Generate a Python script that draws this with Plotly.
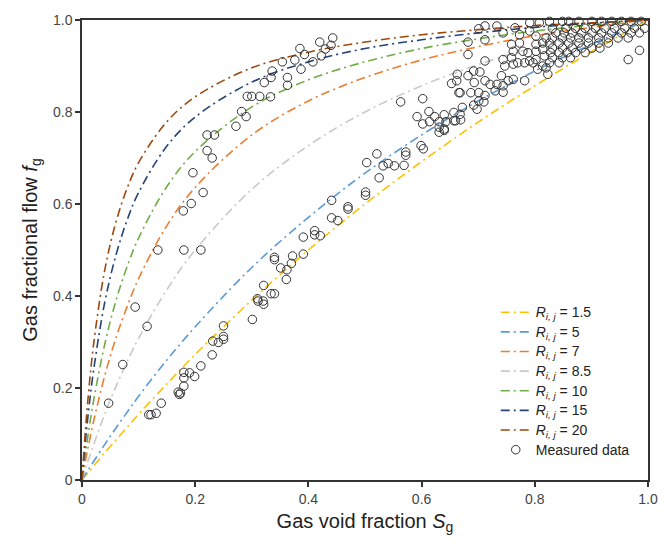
import plotly.graph_objects as go

# Model curves: gas void fraction S_g versus gas fractional flow f_g
S_grid = [0.0, 0.005, 0.01, 0.02, 0.04, 0.06, 0.08, 0.1, 0.15, 0.2, 0.3, 0.4,
          0.5, 0.6, 0.7, 0.8, 0.9, 1.0]

f_r1_5 = [0.0, 0.008, 0.015, 0.030, 0.059, 0.087, 0.115, 0.143, 0.209, 0.273,
          0.391, 0.500, 0.600, 0.692, 0.778, 0.857, 0.931, 1.0]
f_r5 = [0.0, 0.010, 0.020, 0.039, 0.077, 0.113, 0.148, 0.182, 0.261, 0.333,
        0.462, 0.571, 0.667, 0.750, 0.824, 0.889, 0.947, 1.0]
f_r7 = [0.0, 0.034, 0.066, 0.125, 0.226, 0.309, 0.378, 0.438, 0.553, 0.636,
        0.750, 0.824, 0.875, 0.913, 0.942, 0.966, 0.984, 1.0]
f_r8_5 = [0.0, 0.020, 0.039, 0.075, 0.143, 0.203, 0.258, 0.308, 0.414, 0.500,
          0.632, 0.727, 0.800, 0.857, 0.903, 0.941, 0.973, 1.0]
f_r10 = [0.0, 0.048, 0.092, 0.169, 0.294, 0.390, 0.465, 0.526, 0.638, 0.714,
         0.811, 0.870, 0.909, 0.938, 0.959, 0.976, 0.989, 1.0]
f_r15 = [0.0, 0.070, 0.132, 0.234, 0.385, 0.489, 0.566, 0.625, 0.726, 0.789,
         0.865, 0.909, 0.938, 0.957, 0.972, 0.984, 0.993, 1.0]
f_r20 = [0.0, 0.091, 0.168, 0.290, 0.455, 0.561, 0.635, 0.690, 0.779, 0.833,
         0.896, 0.930, 0.952, 0.968, 0.979, 0.988, 0.994, 1.0]

curve_labels = ["1.5", "5", "7", "8.5", "10", "15", "20"]
curve_values = [f_r1_5, f_r5, f_r7, f_r8_5, f_r10, f_r15, f_r20]
curve_colors = ["#FFC000", "#5B9BD5", "#ED7D31", "#C9C9C9", "#70AD47",
                "#264478", "#9E480E"]

# Measured data
meas_S = [
    0.047, 0.072, 0.094, 0.115, 0.118, 0.122, 0.131, 0.134, 0.140, 0.170,
    0.172, 0.174, 0.180, 0.180, 0.180, 0.190, 0.199, 0.180, 0.179, 0.193,
    0.196, 0.210, 0.214, 0.210, 0.230, 0.231, 0.241, 0.250, 0.250, 0.250,
    0.221, 0.230, 0.221, 0.234, 0.272, 0.282, 0.290, 0.292, 0.300, 0.314,
    0.322, 0.301, 0.310, 0.311, 0.320, 0.321, 0.321, 0.334, 0.340, 0.340,
    0.340, 0.351, 0.362, 0.361, 0.370, 0.372, 0.391, 0.391, 0.411, 0.411,
    0.421, 0.441, 0.441, 0.452, 0.470, 0.470, 0.501, 0.501, 0.525, 0.532,
    0.541, 0.552, 0.569, 0.503, 0.521, 0.572, 0.572, 0.599, 0.603, 0.563,
    0.602, 0.613, 0.592, 0.623, 0.640, 0.602, 0.614, 0.631, 0.643, 0.660,
    0.631, 0.640, 0.631, 0.640, 0.653, 0.666,
    0.443, 0.420, 0.385, 0.440, 0.430, 0.393, 0.423, 0.376, 0.408, 0.354,
    0.387, 0.336, 0.334, 0.363, 0.363, 0.333,
    0.657, 0.669, 0.668, 0.657, 0.672, 0.692, 0.698, 0.701, 0.710, 0.668,
    0.687, 0.701, 0.712, 0.662, 0.693, 0.712, 0.663, 0.682, 0.692, 0.703,
    0.682, 0.712, 0.682, 0.712, 0.701, 0.712, 0.733,
    0.721, 0.733, 0.730, 0.744, 0.744, 0.741, 0.753, 0.762, 0.747, 0.762,
    0.770, 0.744, 0.759, 0.762, 0.779, 0.759, 0.773, 0.802, 0.782, 0.797,
    0.791, 0.788, 0.802, 0.814, 0.802, 0.814, 0.805, 0.823, 0.782, 0.817,
    0.765, 0.744, 0.773, 0.791, 0.791, 0.808, 0.802, 0.820, 0.814,
    0.826, 0.849, 0.860, 0.878, 0.901, 0.918, 0.936, 0.953, 0.970, 0.988,
    0.831, 0.855, 0.872, 0.889, 0.907, 0.924, 0.941, 0.959, 0.976, 0.994,
    0.837, 0.852, 0.866, 0.883, 0.901, 0.918, 0.936, 0.953, 0.970, 0.985,
    0.831, 0.849, 0.863, 0.878, 0.895, 0.913, 0.930, 0.947, 0.965,
    0.826, 0.843, 0.860, 0.878, 0.895, 0.913, 0.930,
    0.831, 0.849, 0.866, 0.883, 0.901, 0.915,
    0.828, 0.843, 0.857, 0.872, 0.889,
    0.831, 0.849, 0.863,
    0.826, 0.843, 0.820,
    0.965, 0.985,
]
meas_f = [
    0.167, 0.251, 0.376, 0.334, 0.142, 0.142, 0.145, 0.500, 0.167, 0.191,
    0.186, 0.189, 0.204, 0.222, 0.234, 0.233, 0.225, 0.500, 0.585, 0.601,
    0.668, 0.500, 0.625, 0.248, 0.272, 0.302, 0.299, 0.306, 0.312, 0.335,
    0.716, 0.700, 0.750, 0.750, 0.769, 0.801, 0.790, 0.834, 0.834, 0.834,
    0.864, 0.349, 0.394, 0.389, 0.389, 0.382, 0.423, 0.405, 0.405, 0.484,
    0.479, 0.461, 0.457, 0.436, 0.471, 0.487, 0.491, 0.528, 0.542, 0.533,
    0.531, 0.608, 0.570, 0.564, 0.594, 0.589, 0.626, 0.619, 0.657, 0.683,
    0.688, 0.683, 0.684, 0.690, 0.709, 0.713, 0.706, 0.727, 0.720, 0.822,
    0.829, 0.801, 0.790, 0.790, 0.794, 0.774, 0.779, 0.779, 0.779, 0.781,
    0.767, 0.763, 0.756, 0.760, 0.862, 0.842,
    0.961, 0.952, 0.938, 0.945, 0.937, 0.925, 0.922, 0.913, 0.909, 0.909,
    0.893, 0.889, 0.875, 0.875, 0.858, 0.833,
    0.781, 0.783, 0.795, 0.799, 0.810, 0.815, 0.806, 0.824, 0.822, 0.842,
    0.842, 0.842, 0.836, 0.868, 0.864, 0.868, 0.882, 0.879, 0.889, 0.887,
    0.925, 0.911, 0.952, 0.957, 0.981, 0.987, 0.987,
    0.860, 0.860, 0.846, 0.843, 0.857, 0.879, 0.868, 0.871, 0.900, 0.904,
    0.907, 0.914, 0.918, 0.932, 0.932, 0.947, 0.950, 0.947, 0.907, 0.907,
    0.911, 0.929, 0.932, 0.936, 0.914, 0.900, 0.893, 0.882, 0.868, 0.922,
    0.983, 0.972, 0.968, 0.994, 0.976, 0.994, 0.965, 0.961, 0.950,
    0.997, 0.997, 0.997, 0.997, 0.997, 0.997, 0.997, 0.997, 0.997, 0.997,
    0.982, 0.982, 0.982, 0.982, 0.982, 0.982, 0.982, 0.982, 0.982, 0.982,
    0.972, 0.972, 0.972, 0.972, 0.972, 0.972, 0.972, 0.972, 0.972, 0.972,
    0.961, 0.961, 0.961, 0.961, 0.961, 0.961, 0.961, 0.961, 0.961,
    0.950, 0.950, 0.950, 0.950, 0.950, 0.950, 0.950,
    0.939, 0.939, 0.939, 0.939, 0.939, 0.939,
    0.929, 0.929, 0.929, 0.929, 0.929,
    0.918, 0.918, 0.918,
    0.907, 0.907, 0.896,
    0.914, 0.934,
]

tick_vals = [0, 0.2, 0.4, 0.6, 0.8, 1.0]
tick_text = ["0", "0.2", "0.4", "0.6", "0.8", "1.0"]

FONT = "Liberation Sans, Arial, sans-serif"


def legend_text(s):
    # slightly larger legend text while keeping compact row spacing
    return f"<span style='font-size:14px'>{s}</span>"


fig = go.Figure()

for lab, vals, col in zip(curve_labels, curve_values, curve_colors):
    fig.add_trace(go.Scatter(
        x=S_grid, y=vals, mode="lines",
        line=dict(color=col, width=1.6, dash="9px,4px,2px,4px", shape="spline"),
        name=legend_text(f"<i>R</i><sub><i>i, j</i></sub> = {lab}"),
    ))

fig.add_trace(go.Scatter(
    x=meas_S, y=meas_f, mode="markers",
    marker=dict(symbol="circle-open", size=8.5, color="#333333",
                line=dict(width=1, color="#333333")),
    name=legend_text("Measured data"),
    cliponaxis=False,
))

axis_common = dict(
    range=[0, 1], tickvals=tick_vals, ticktext=tick_text,
    showgrid=False, zeroline=False,
    showline=True, linecolor="#333333", linewidth=1.5, mirror=True,
    ticks="outside", ticklen=5, tickwidth=1.5, tickcolor="#333333",
    tickfont=dict(family=FONT, size=14, color="#444444"),
)

fig.update_layout(
    width=670, height=548,
    margin=dict(l=82, r=13, t=17, b=68),
    paper_bgcolor="white", plot_bgcolor="white",
    font=dict(family=FONT, color="#222222"),
    xaxis=dict(**axis_common,
               title=dict(text="Gas void fraction <i>S</i><sub>g</sub>",
                          font=dict(family=FONT, size=20, color="#222222"),
                          standoff=8)),
    yaxis=dict(**axis_common,
               title=dict(text="Gas fractional flow <i>f</i><sub>g</sub>",
                          font=dict(family=FONT, size=20, color="#222222"),
                          standoff=10)),
    legend=dict(
        x=0.731, xanchor="left", y=0.397, yanchor="top",
        bgcolor="rgba(0,0,0,0)", borderwidth=0,
        font=dict(family=FONT, size=12.8, color="#222222"),
        tracegroupgap=0,
    ),
    showlegend=True,
)

fig.write_html("out.html")
